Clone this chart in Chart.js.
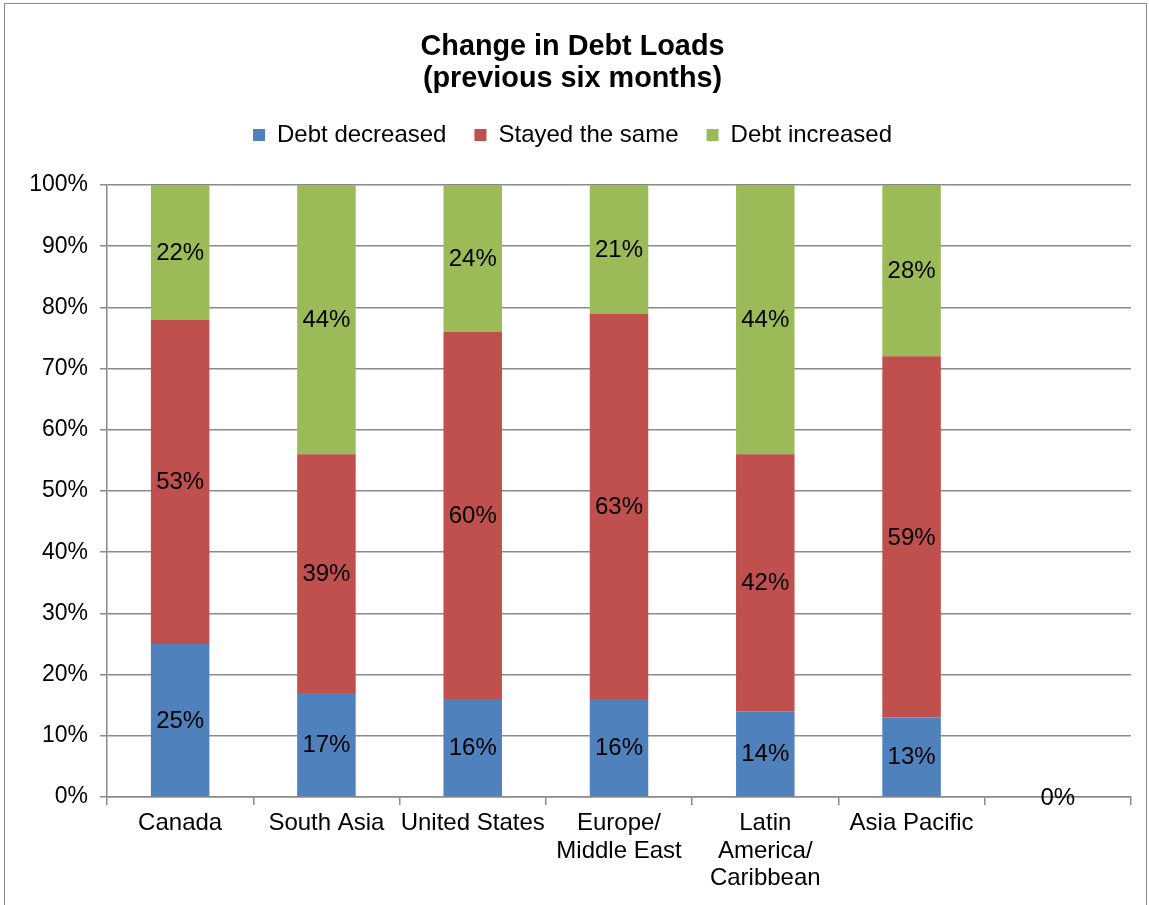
<!DOCTYPE html>
<html lang="en">
<head>
    <meta charset="UTF-8">
    <title>Change in Debt Loads</title>
    <script src="https://cdn.jsdelivr.net/npm/chart.js"></script>
    <style>
      body { margin: 0; background: #fff; overflow: hidden; }
      #wrap { position: relative; width: 1149px; height: 905px; }
      #frame {
        position: absolute; left: 4px; top: 3px; width: 1141px; height: 960px;
        border: 1px solid #8c8c8c; pointer-events: none;
      }
    </style>
</head>
<body>
    <div id="wrap">
        <canvas id="debtChart"></canvas>
        <div id="frame"></div>
    </div>

    <script>
        // chart data
        const categories = ['Canada', 'South Asia', 'United States', ['Europe/', 'Middle East'],
                            ['Latin', 'America/', 'Caribbean'], 'Asia Pacific', ''];
        const seriesNames = ['Debt decreased', 'Stayed the same', 'Debt increased'];
        const debtDecreased = [25, 17, 16, 16, 14, 13, 0];
        const stayedSame    = [53, 39, 60, 63, 42, 59, null];
        const debtIncreased = [22, 44, 24, 21, 44, 28, null];
        const yTicks = [0, 10, 20, 30, 40, 50, 60, 70, 80, 90, 100];

        const FONT = '"Liberation Sans", Arial, sans-serif';
        const gridColor = '#8a8a8a';

        // value labels in the middle of every segment
        const barLabels = {
            id: 'barLabels',
            afterDatasetsDraw(chart) {
                const ctx = chart.ctx;
                ctx.save();
                ctx.font = '24px ' + FONT;
                ctx.fillStyle = '#000';
                ctx.textAlign = 'center';
                ctx.textBaseline = 'middle';
                chart.data.datasets.forEach((ds, i) => {
                    chart.getDatasetMeta(i).data.forEach((bar, j) => {
                        const v = ds.data[j];
                        if (v === null || v === undefined) return;
                        ctx.fillText(v + '%', bar.x, (bar.y + bar.base) / 2 + 1);
                    });
                });
                ctx.restore();
            }
        };

        // give the legend a fixed height so the plot starts lower
        const legendSpace = {
            id: 'legendSpace',
            beforeUpdate(chart) {
                const lg = chart.legend;
                if (!lg || lg._patched) return;
                const fit = lg.fit;
                lg.fit = function () {
                    fit.call(this);
                    this.height = 90;
                };
                lg._patched = true;
            }
        };

        new Chart(document.getElementById('debtChart'), {
            type: 'bar',
            data: {
                labels: categories,
                datasets: [
                    { label: seriesNames[0], data: debtDecreased, backgroundColor: '#4f81bd' },
                    { label: seriesNames[1], data: stayedSame, backgroundColor: '#c0504d' },
                    { label: seriesNames[2], data: debtIncreased, backgroundColor: '#9bbb59' }
                ]
            },
            options: {
                responsive: true,
                maintainAspectRatio: false,
                animation: false,
                datasets: { bar: { categoryPercentage: 1, barPercentage: 0.4, borderWidth: 0 } },
                layout: { padding: { left: 14, right: 18, top: 0, bottom: 0 } },
                plugins: {
                    tooltip: { enabled: false },
                    title: {
                        display: true,
                        text: ['Change in Debt Loads', '(previous six months)'],
                        color: '#000',
                        font: { family: FONT, size: 28.8, weight: 'bold', lineHeight: 1.111 },
                        padding: { top: 31, bottom: 0 }
                    },
                    legend: {
                        position: 'top',
                        labels: {
                            color: '#000',
                            font: { family: FONT, size: 24 },
                            boxWidth: 12,
                            boxHeight: 12,
                            padding: 28
                        }
                    }
                },
                scales: {
                    x: {
                        stacked: true,
                        grid: { drawOnChartArea: false, drawTicks: true, tickLength: 8, color: gridColor, lineWidth: 1.5 },
                        border: { color: gridColor, width: 1.5 },
                        ticks: {
                            color: '#000', padding: 5, maxRotation: 0, autoSkip: false,
                            font: { family: FONT, size: 24, lineHeight: 1.146 }
                        },
                        afterFit(scale) { scale.height = 108; }
                    },
                    y: {
                        stacked: true,
                        min: 0,
                        max: 100,
                        afterBuildTicks(scale) { scale.ticks = yTicks.map(v => ({ value: v })); },
                        grid: { color: gridColor, lineWidth: 1.5, tickLength: 7 },
                        border: { color: gridColor, width: 1.5 },
                        ticks: {
                            color: '#000', padding: 12,
                            font: { family: FONT, size: 23 },
                            callback: v => v + '%'
                        },
                        afterFit(scale) { scale.width = 93; }
                    }
                }
            },
            plugins: [legendSpace, barLabels]
        });
    </script>
</body>
</html>
